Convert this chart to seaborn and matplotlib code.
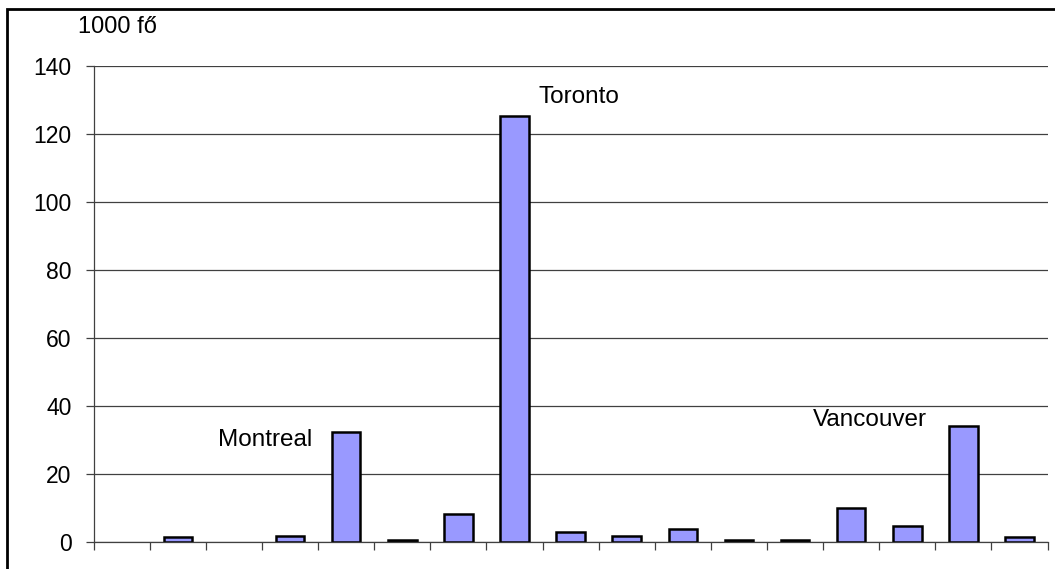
import numpy as np
import pandas as pd
import matplotlib
matplotlib.use("Agg")
import matplotlib.pyplot as plt
from matplotlib.patches import Rectangle
import seaborn as sns

# --- adatok ---
kategoriak = [str(k) for k in range(1, 18)]
ertekek = [np.nan, 1.3, np.nan, 1.8, 32.3, 0.5, 8.2, 125.2, 2.9, 1.8,
           3.6, 0.4, 0.4, 10.0, 4.7, 34.1, 1.3]
y_ticks = [0, 20, 40, 60, 80, 100, 120, 140]
varosok = ["Montreal", "Toronto", "Vancouver"]
varos_x = [2.55, 8.15, 13.33]
varos_y = [29.9, 130.8, 35.8]

sns.set_style("white")
plt.rcParams['font.family'] = ['Liberation Sans', 'DejaVu Sans']
plt.rcParams['text.color'] = 'black'
plt.rcParams['ytick.labelcolor'] = 'black'

df = pd.DataFrame({"kat": kategoriak, "ertek": ertekek})

fig = plt.figure(figsize=(10.55, 5.69), dpi=100)
ax = fig.add_axes([93.7 / 1055, 1 - 541.7 / 569, (1047.5 - 93.7) / 1055, (541.7 - 65.7) / 569])

sns.barplot(data=df, x="kat", y="ertek", order=kategoriak, color="#9999ff",
            saturation=1, width=0.51, edgecolor="black", linewidth=1.8, ax=ax)

ax.set_xlim(-0.5, len(kategoriak) - 0.5)
ax.set_ylim(0, 140)
ax.set_yticks(y_ticks)
ax.set_yticklabels([str(v) for v in y_ticks], fontsize=16.5, color="black")
ax.set_xticks(np.arange(len(kategoriak) + 1) - 0.5)
ax.set_xticklabels([])
ax.set_xlabel("")
ax.set_ylabel("")
ax.tick_params(axis="both", direction="out", length=6, width=0.9, color="#404040",
               bottom=True, left=True)
ax.tick_params(axis="y", pad=10)

ax.yaxis.grid(True, color="#404040", linewidth=0.9)
ax.set_axisbelow(True)
for s in ["top", "right"]:
    ax.spines[s].set_visible(False)
for s in ["left", "bottom"]:
    ax.spines[s].set_color("#404040")
    ax.spines[s].set_linewidth(0.9)

# városnevek
for nev, x, y in zip(varosok, varos_x, varos_y):
    ax.text(x, y, nev, fontsize=17.5, ha="center", va="center", color="black")

fig.text(78 / 1055, 1 - 27 / 569, "1000 fő", fontsize=17, ha="left", va="center",
         color="black")

# külső keret
fig.patches.append(Rectangle((7 / 1055, -0.1), 1.2, (569 - 9) / 569 + 0.1,
                             transform=fig.transFigure, fill=False,
                             edgecolor="black", linewidth=2))

fig.savefig("out.png", dpi=100)
